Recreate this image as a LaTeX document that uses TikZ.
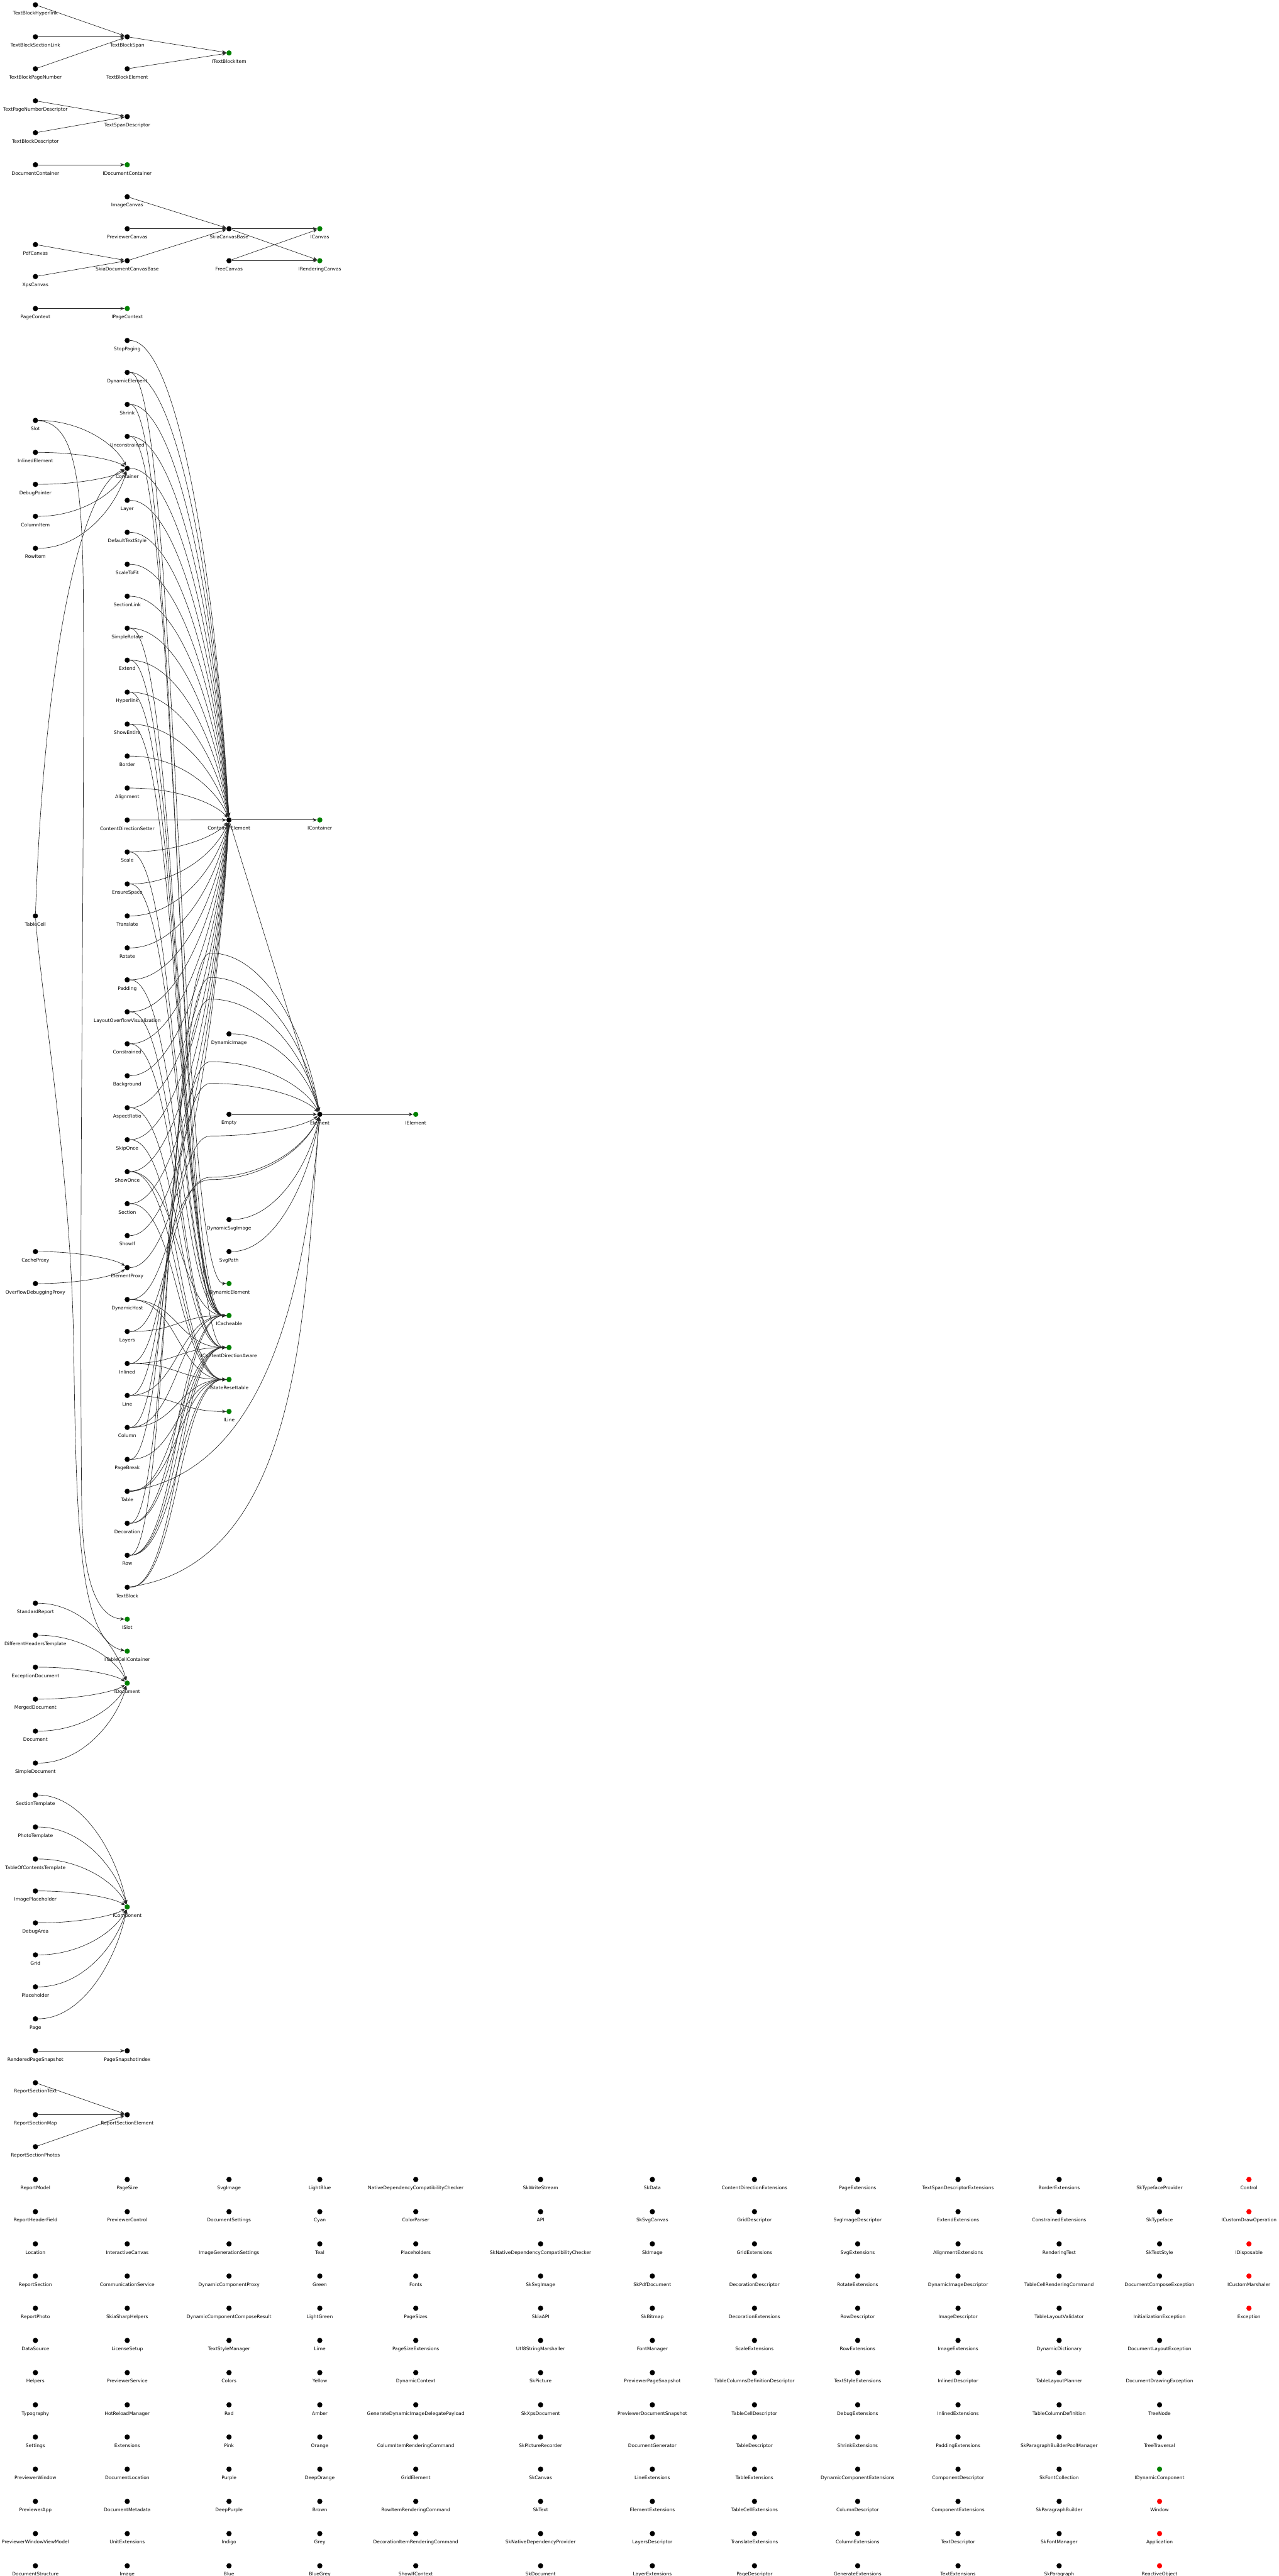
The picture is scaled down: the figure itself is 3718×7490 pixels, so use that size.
\documentclass[tikz,border=0pt]{standalone}
\usepackage{fontspec}
\setmainfont{DejaVu Sans}
\usetikzlibrary{arrows.meta,calc}
\definecolor{ifacegreen}{RGB}{0,128,0}
\definecolor{extred}{RGB}{255,0,0}
\definecolor{edgegray}{RGB}{40,40,40}

\begin{document}
\begin{tikzpicture}[x=0.01cm, y=-0.01cm, label distance=2.9pt,
  every label/.style={font=\fontsize{3.9}{4.6}\selectfont, inner sep=0pt},
  cls/.style={circle, fill=black, minimum size=4.3pt, inner sep=0pt, label=below:{#1}},
  iface/.style={cls=#1, fill=ifacegreen},
  ext/.style={cls=#1, fill=extred},
  edge/.style={draw=edgegray, line width=0.35pt, -{Stealth[length=3.4pt, width=2.8pt, inset=1.1pt]}},
  fan/.style={to path={.. controls ($0.5*(\tikztostart)+0.5*(\tikztotarget |- \tikztostart)$) and ($0.5*(\tikztotarget)+0.125*(\tikztostart)+0.375*(\tikztotarget |- \tikztostart)$) .. (\tikztotarget) \tikztonodes}},
  bundle/.style={to path={.. controls ($0.5*(\tikztostart)+0.5*(\tikztotarget |- \tikztostart)$) and ($0.5*(\tikztotarget)+0.5*(\tikztostart |- \tikztotarget)$) .. (\tikztotarget) \tikztonodes}}]
  \useasboundingbox (0,0) rectangle (3718,7490);

  \foreach \n/\x/\y in {TextBlockHyperlink/103/14, TextBlockSectionLink/103/107, TextBlockPageNumber/103/200,
      TextBlockSpan/370/107, TextBlockElement/370/200, TextPageNumberDescriptor/103/293,
      TextBlockDescriptor/103/386, TextSpanDescriptor/370/339, DocumentContainer/103/479,
      ImageCanvas/370/572, PreviewerCanvas/370/665, SkiaCanvasBase/666/665, PdfCanvas/103/711,
      SkiaDocumentCanvasBase/370/758, FreeCanvas/666/758, XpsCanvas/103/804, PageContext/103/897}
    \node[cls=\n] (\n) at (\x,\y) {};
  \foreach \n/\x/\y in {ITextBlockItem/666/154, IDocumentContainer/370/479, ICanvas/930/665,
      IRenderingCanvas/930/758, IPageContext/370/897}
    \node[iface=\n] (\n) at (\x,\y) {};

  \foreach \n [count=\k from 0] in {StopPaging, DynamicElement, Shrink, Unconstrained, Container, Layer,
      DefaultTextStyle, ScaleToFit, SectionLink, SimpleRotate, Extend, Hyperlink, ShowEntire, Border,
      Alignment, ContentDirectionSetter, Scale, EnsureSpace, Translate, Rotate, Padding,
      LayoutOverflowVisualization, Constrained, Background, AspectRatio, SkipOnce, ShowOnce, Section,
      ShowIf, ElementProxy, DynamicHost, Layers, Inlined, Line, Column, PageBreak, Table, Decoration,
      Row, TextBlock}
    \node[cls=\n] (\n) at (370,{990+\k*92.95}) {};
  \foreach \n/\k in {Slot/2.5, InlinedElement/3.5, DebugPointer/4.5, ColumnItem/5.5, RowItem/6.5,
      TableCell/18, CacheProxy/28.5, OverflowDebuggingProxy/29.5, StandardReport/39.5,
      DifferentHeadersTemplate/40.5, ExceptionDocument/41.5, MergedDocument/42.5, Document/43.5,
      SimpleDocument/44.5, SectionTemplate/45.5, PhotoTemplate/46.5, TableOfContentsTemplate/47.5,
      ImagePlaceholder/48.5, DebugArea/49.5, Grid/50.5, Placeholder/51.5, Page/52.5,
      RenderedPageSnapshot/53.5, ReportSectionText/54.5, ReportSectionMap/55.5, ReportSectionPhotos/56.5}
    \node[cls=\n] (\n) at (103,{990+\k*92.95}) {};
  \foreach \n/\k in {ISlot/40, ITableCellContainer/41, IDocument/42, IComponent/49}
    \node[iface=\n] (\n) at (370,{990+\k*92.95}) {};
  \node[cls=PageSnapshotIndex] (PageSnapshotIndex) at (370,{990+53.5*92.95}) {};
  \node[cls=ReportSectionElement] (ReportSectionElement) at (370,{990+55.5*92.95}) {};

  \node[cls=ContainerElement] (ContainerElement) at (666,2384) {};
  \node[cls=DynamicImage] (DynamicImage) at (666,3006) {};
  \node[cls=Empty] (Empty) at (666,3240) {};
  \node[cls=DynamicSvgImage] (DynamicSvgImage) at (666,3546) {};
  \node[cls=SvgPath] (SvgPath) at (666,3639) {};
  \foreach \n/\y in {IDynamicElement/3732, ICacheable/3825, IContentDirectionAware/3918,
      IStateResettable/4011, ILine/4104}
    \node[iface=\n] (\n) at (666,\y) {};
  \node[iface=IContainer] (IContainer) at (930,2384) {};
  \node[cls=Element] (Element) at (930,3240) {};
  \node[iface=IElement] (IElement) at (1209,3240) {};

  \foreach \x/\names in {
      103/{ReportModel, ReportHeaderField, Location, ReportSection, ReportPhoto, DataSource, Helpers,
        Typography, Settings, PreviewerWindow, PreviewerApp, PreviewerWindowViewModel, DocumentStructure},
      370/{PageSize, PreviewerControl, InteractiveCanvas, CommunicationService, SkiaSharpHelpers,
        LicenseSetup, PreviewerService, HotReloadManager, Extensions, DocumentLocation, DocumentMetadata,
        UnitExtensions, Image},
      666/{SvgImage, DocumentSettings, ImageGenerationSettings, DynamicComponentProxy,
        DynamicComponentComposeResult, TextStyleManager, Colors, Red, Pink, Purple, DeepPurple, Indigo, Blue},
      930/{LightBlue, Cyan, Teal, Green, LightGreen, Lime, Yellow, Amber, Orange, DeepOrange, Brown, Grey,
        BlueGrey},
      1209/{NativeDependencyCompatibilityChecker, ColorParser, Placeholders, Fonts, PageSizes,
        PageSizeExtensions, DynamicContext, GenerateDynamicImageDelegatePayload, ColumnItemRenderingCommand,
        GridElement, RowItemRenderingCommand, DecorationItemRenderingCommand, ShowIfContext},
      1572/{SkWriteStream, API, SkNativeDependencyCompatibilityChecker, SkSvgImage, SkiaAPI,
        Utf8StringMarshaller, SkPicture, SkXpsDocument, SkPictureRecorder, SkCanvas, SkText,
        SkNativeDependencyProvider, SkDocument},
      1897/{SkData, SkSvgCanvas, SkImage, SkPdfDocument, SkBitmap, FontManager, PreviewerPageSnapshot,
        PreviewerDocumentSnapshot, DocumentGenerator, LineExtensions, ElementExtensions, LayersDescriptor,
        LayerExtensions},
      2194/{ContentDirectionExtensions, GridDescriptor, GridExtensions, DecorationDescriptor,
        DecorationExtensions, ScaleExtensions, TableColumnsDefinitionDescriptor, TableCellDescriptor,
        TableDescriptor, TableExtensions, TableCellExtensions, TranslateExtensions, PageDescriptor},
      2494/{PageExtensions, SvgImageDescriptor, SvgExtensions, RotateExtensions, RowDescriptor,
        RowExtensions, TextStyleExtensions, DebugExtensions, ShrinkExtensions, DynamicComponentExtensions,
        ColumnDescriptor, ColumnExtensions, GenerateExtensions},
      2786/{TextSpanDescriptorExtensions, ExtendExtensions, AlignmentExtensions, DynamicImageDescriptor,
        ImageDescriptor, ImageExtensions, InlinedDescriptor, InlinedExtensions, PaddingExtensions,
        ComponentDescriptor, ComponentExtensions, TextDescriptor, TextExtensions},
      3080/{BorderExtensions, ConstrainedExtensions, RenderingTest, TableCellRenderingCommand,
        TableLayoutValidator, DynamicDictionary, TableLayoutPlanner, TableColumnDefinition,
        SkParagraphBuilderPoolManager, SkFontCollection, SkParagraphBuilder, SkFontManager, SkParagraph},
      3372/{SkTypefaceProvider, SkTypeface, SkTextStyle, DocumentComposeException, InitializationException,
        DocumentLayoutException, DocumentDrawingException, TreeNode, TreeTraversal}}
    \foreach \n [count=\r from 0] in \names
      \node[cls=\n] (\n) at (\x,{6337+\r*93.6}) {};
  \node[iface=IDynamicComponent] (IDynamicComponent) at (3372,{6337+9*93.6}) {};
  \foreach \n/\r in {Window/10, Application/11, ReactiveObject/12}
    \node[ext=\n] (\n) at (3372,{6337+\r*93.6}) {};
  \foreach \n [count=\r from 0] in {Control, ICustomDrawOperation, IDisposable, ICustomMarshaler, Exception}
    \node[ext=\n] (\n) at (3632,{6337+\r*93.6}) {};

  \foreach \a/\b in {TextBlockHyperlink/TextBlockSpan, TextBlockSectionLink/TextBlockSpan,
      TextBlockPageNumber/TextBlockSpan, TextBlockSpan/ITextBlockItem, TextBlockElement/ITextBlockItem,
      TextPageNumberDescriptor/TextSpanDescriptor, TextBlockDescriptor/TextSpanDescriptor,
      DocumentContainer/IDocumentContainer, ImageCanvas/SkiaCanvasBase, PreviewerCanvas/SkiaCanvasBase,
      PdfCanvas/SkiaDocumentCanvasBase, XpsCanvas/SkiaDocumentCanvasBase,
      SkiaDocumentCanvasBase/SkiaCanvasBase, SkiaCanvasBase/ICanvas, SkiaCanvasBase/IRenderingCanvas,
      FreeCanvas/ICanvas, FreeCanvas/IRenderingCanvas, PageContext/IPageContext,
      ContainerElement/IContainer, ContainerElement/Element, Element/IElement, Empty/Element,
      RenderedPageSnapshot/PageSnapshotIndex, ReportSectionText/ReportSectionElement,
      ReportSectionMap/ReportSectionElement, ReportSectionPhotos/ReportSectionElement}
    \draw[edge] (\a) -- (\b);

  \foreach \a/\b in {Slot/Container, InlinedElement/Container, DebugPointer/Container,
      ColumnItem/Container, RowItem/Container, CacheProxy/ElementProxy, OverflowDebuggingProxy/ElementProxy,
      DynamicImage/Element, DynamicSvgImage/Element, SvgPath/Element,
      StandardReport/IDocument, DifferentHeadersTemplate/IDocument, ExceptionDocument/IDocument,
      MergedDocument/IDocument, Document/IDocument, SimpleDocument/IDocument,
      SectionTemplate/IComponent, PhotoTemplate/IComponent, TableOfContentsTemplate/IComponent,
      ImagePlaceholder/IComponent, DebugArea/IComponent, Grid/IComponent, Placeholder/IComponent,
      Page/IComponent}
    \draw[edge] (\a) to[fan] (\b);

  \foreach \a in {StopPaging, DynamicElement, Shrink, Unconstrained, Container, Layer, DefaultTextStyle,
      ScaleToFit, SectionLink, SimpleRotate, Extend, Hyperlink, ShowEntire, Border, Alignment,
      ContentDirectionSetter, Scale, EnsureSpace, Translate, Rotate, Padding, LayoutOverflowVisualization,
      Constrained, Background, AspectRatio, SkipOnce, ShowOnce, Section, ShowIf, ElementProxy}
    \draw[edge] (\a) to[fan] (ContainerElement);

  \foreach \a/\b in {Unconstrained/ICacheable, SimpleRotate/ICacheable, Extend/ICacheable,
      Hyperlink/ICacheable, ShowEntire/ICacheable, Scale/ICacheable, EnsureSpace/ICacheable,
      Padding/ICacheable, ShowOnce/ICacheable, Layers/ICacheable, Line/ICacheable, Column/ICacheable,
      Decoration/ICacheable, Row/ICacheable,
      Shrink/IContentDirectionAware, LayoutOverflowVisualization/IContentDirectionAware,
      Constrained/IContentDirectionAware, AspectRatio/IContentDirectionAware,
      DynamicHost/IContentDirectionAware, Inlined/IContentDirectionAware, Table/IContentDirectionAware,
      Decoration/IContentDirectionAware, Row/IContentDirectionAware, TextBlock/IContentDirectionAware,
      SkipOnce/IStateResettable, ShowOnce/IStateResettable, Section/IStateResettable,
      DynamicHost/IStateResettable, Inlined/IStateResettable, Column/IStateResettable,
      PageBreak/IStateResettable, Table/IStateResettable, Row/IStateResettable, TextBlock/IStateResettable,
      DynamicElement/IDynamicElement, Line/ILine}
    \draw[edge] (\a) to[bundle] (\b);

  \foreach \a/\y in {Row/2771, Decoration/2842, PageBreak/2905, Column/3087, Line/3150,
      Inlined/3303, Layers/3423, DynamicHost/3430}
    \coordinate (via\a) at (612,\y);
  \foreach \a in {Row, Decoration, PageBreak, Column, Line, Inlined, Layers, DynamicHost}
    \draw[edge] (\a) to[bundle] (via\a) to[fan] (Element);
  \draw[edge] (Table) to[out=8, in=-95, looseness=0.9] (Element);
  \draw[edge] (TextBlock) to[out=8, in=-95, looseness=0.9] (Element);

  \draw[edge] (Slot) .. controls (200,1230) and (238,1330) .. (242,1700)
    .. controls (248,2300) and (228,3600) .. (238,4400)
    .. controls (244,4640) and (300,4705) .. (ISlot);
  \draw[edge] (TableCell) .. controls (120,2900) and (205,3400) .. (214,3900)
    .. controls (222,4400) and (225,4770) .. (ITableCellContainer);
  \draw[edge] (TableCell) .. controls (125,2000) and (220,1420) .. (Container);
\end{tikzpicture}
\end{document}
